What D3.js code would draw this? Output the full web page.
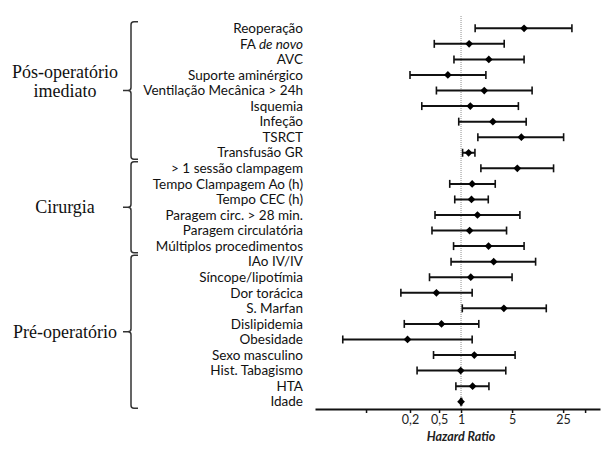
<!DOCTYPE html>
<html>
<head>
<meta charset="utf-8">
<script src="https://cdn.jsdelivr.net/npm/d3@7"></script>
<style>
  body { margin: 0; background: #fff; }
  .row-label { font-family: Lato, "Open Sans", sans-serif; font-size: 13.5px; fill: #111; }
  .tick text { font-family: Lato, sans-serif; font-size: 12.5px; fill: #222; }
</style>
</head>
<body>
<div id="chart"></div>
<script>

// rows, top to bottom
var labels = [
  "Reoperação", "FA de novo", "AVC", "Suporte aminérgico", "Ventilação Mecânica > 24h",
  "Isquemia", "Infeção", "TSRCT", "Transfusão GR",
  "> 1 sessão clampagem", "Tempo Clampagem Ao (h)", "Tempo CEC (h)", "Paragem circ. > 28 min.",
  "Paragem circulatória", "Múltiplos procedimentos",
  "IAo IV/IV", "Síncope/lipotímia", "Dor torácica", "S. Marfan", "Dislipidemia",
  "Obesidade", "Sexo masculino", "Hist. Tabagismo", "HTA", "Idade"
];

var hazard = [7.3, 1.29, 2.4, 0.66, 2.08, 1.34, 2.73, 6.7, 1.27,
  5.9, 1.42, 1.39, 1.68, 1.31, 2.38,
  2.8, 1.36, 0.46, 3.86, 0.54, 0.185, 1.52, 0.99, 1.44, 1.0];

var ciLow = [1.56, 0.43, 0.8, 0.2, 0.46, 0.29, 0.93, 1.7, 1.05,
  1.87, 0.7, 0.82, 0.44, 0.4, 0.79,
  0.73, 0.37, 0.15, 1.04, 0.167, 0.024, 0.42, 0.25, 0.85, 0.99];

var ciHigh = [33, 3.9, 7.3, 2.19, 9.4, 6.1, 7.8, 25.4, 1.55,
  18.5, 2.94, 2.36, 6.4, 4.2, 7.3,
  10.5, 5.0, 1.42, 14.7, 1.75, 1.42, 5.5, 4.1, 2.41, 1.02];

// groups on the left (first and last row of each bracket)
var groupNames = [["Pós-operatório", "imediato"], ["Cirurgia"], ["Pré-operatório"]];
var groupFirst = [0, 9, 15];
var groupLast = [8, 14, 24];

var tickValues = [0.05, 0.2, 0.5, 1, 5, 25, 50];
var tickLabels = ["", "0,2", "0,5", "1", "5", "25", ""];

var width = 603, height = 452;

var svg = d3.select("#chart").append("svg")
  .attr("width", width)
  .attr("height", height);

var xScale = d3.scaleLog()
  .domain([0.01, 80])
  .range([315, 600]);

var yScale = d3.scalePoint()
  .domain(d3.range(labels.length))
  .range([28.3, 401.7]);

var step = yScale.step();
var axisY = 409;

// dotted reference line at HR = 1
svg.append("line")
  .attr("x1", xScale(1)).attr("x2", xScale(1))
  .attr("y1", 16).attr("y2", axisY)
  .attr("stroke", "#b5b5b5")
  .attr("stroke-width", 1.5)
  .attr("stroke-dasharray", "1,1");

// x axis
var xAxis = d3.axisBottom(xScale)
  .tickValues(tickValues)
  .tickFormat((d, i) => tickLabels[i])
  .tickSize(4)
  .tickSizeOuter(0)
  .tickPadding(2);

var axisG = svg.append("g")
  .attr("transform", `translate(0, ${axisY})`)
  .call(xAxis);
axisG.select(".domain").attr("stroke", "#111").attr("stroke-width", 2);
axisG.selectAll(".tick line").attr("stroke", "#111").attr("stroke-width", 1.5);

svg.append("text")
  .attr("x", xScale(1))
  .attr("y", 441)
  .attr("text-anchor", "middle")
  .style("font-family", "Lato, sans-serif")
  .style("font-size", "12.5px")
  .style("font-weight", "bold")
  .style("font-style", "italic")
  .style("fill", "#222")
  .text("Hazard Ratio");

// row labels
var labelG = svg.append("g");
labels.forEach(function(lab, i) {
  var t = labelG.append("text")
    .attr("class", "row-label")
    .attr("x", 303)
    .attr("y", yScale(i))
    .attr("dy", "0.35em")
    .attr("text-anchor", "end");
  if (lab === "FA de novo") {
    t.append("tspan").text("FA ");
    t.append("tspan").style("font-style", "italic").text("de novo");
  } else {
    t.text(lab);
  }
});

// error bars
var rows = svg.selectAll(".row")
  .data(labels)
  .enter()
  .append("g")
  .attr("class", "row");

rows.append("line")
  .attr("x1", (d, i) => xScale(ciLow[i]))
  .attr("x2", (d, i) => xScale(ciHigh[i]))
  .attr("y1", (d, i) => yScale(i))
  .attr("y2", (d, i) => yScale(i))
  .attr("stroke", "#111")
  .attr("stroke-width", 2);

rows.append("line")
  .attr("x1", (d, i) => xScale(ciLow[i]))
  .attr("x2", (d, i) => xScale(ciLow[i]))
  .attr("y1", (d, i) => yScale(i) - 4)
  .attr("y2", (d, i) => yScale(i) + 4)
  .attr("stroke", "#111")
  .attr("stroke-width", 1.6);

rows.append("line")
  .attr("x1", (d, i) => xScale(ciHigh[i]))
  .attr("x2", (d, i) => xScale(ciHigh[i]))
  .attr("y1", (d, i) => yScale(i) - 4)
  .attr("y2", (d, i) => yScale(i) + 4)
  .attr("stroke", "#111")
  .attr("stroke-width", 1.6);

// diamond marker: a square turned 45 degrees
rows.append("path")
  .attr("d", d3.symbol().type(d3.symbolSquare).size(30))
  .attr("transform", (d, i) => `translate(${xScale(hazard[i])}, ${yScale(i)}) rotate(45)`)
  .attr("fill", "#000");

// curly brackets and group names
var bx = 131;
groupNames.forEach(function(name, g) {
  var top = yScale(groupFirst[g]) - 0.42 * step;
  var bottom = yScale(groupLast[g]) + 0.42 * step;
  var mid = (top + bottom) / 2;
  var p = d3.path();
  p.moveTo(bx + 7, top);
  p.lineTo(bx + 3, top);
  p.quadraticCurveTo(bx, top, bx, top + 3);
  p.lineTo(bx, mid - 3);
  p.quadraticCurveTo(bx, mid, bx - 3, mid);
  p.lineTo(bx - 8, mid);
  p.moveTo(bx - 3, mid);
  p.quadraticCurveTo(bx, mid, bx, mid + 3);
  p.lineTo(bx, bottom - 3);
  p.quadraticCurveTo(bx, bottom, bx + 3, bottom);
  p.lineTo(bx + 7, bottom);
  svg.append("path")
    .attr("d", p.toString())
    .attr("fill", "none")
    .attr("stroke", "#333")
    .attr("stroke-width", 1.5);

  var t = svg.append("text")
    .attr("x", 65)
    .attr("text-anchor", "middle")
    .style("font-family", "'Liberation Serif', 'DejaVu Serif', serif")
    .style("font-size", "18px")
    .style("fill", "#111");
  if (name.length === 2) {
    t.attr("y", mid - 13);
    t.append("tspan").attr("x", 65).text(name[0]);
    t.append("tspan").attr("x", 65).attr("dy", 19).text(name[1]);
  } else {
    t.attr("y", mid + 6).text(name[0]);
  }
});

</script>
</body>
</html>
